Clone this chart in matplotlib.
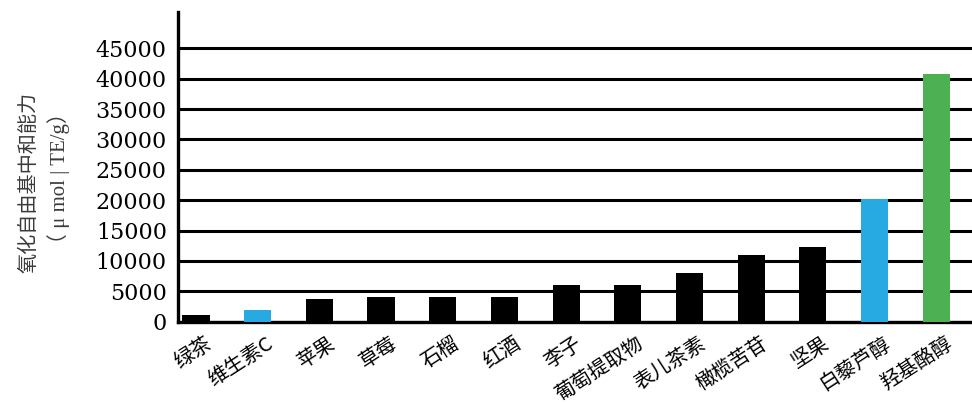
import numpy as np
import matplotlib
matplotlib.use('Agg')
import matplotlib.pyplot as plt
from matplotlib.transforms import ScaledTranslation

# data
categories = ['绿茶', '维生素C', '苹果', '草莓', '石榴', '红酒', '李子',
              '葡萄提取物', '表儿茶素', '橄榄苦苷', '坚果', '白藜芦醇', '羟基酪醇']
values = [1150, 2000, 3800, 4100, 4100, 4100, 6100,
          6100, 8000, 10950, 12250, 20200, 40800]
yticks = [0, 5000, 10000, 15000, 20000, 25000, 30000, 35000, 40000, 45000]
ylabel_main = '氧化自由基中和能力'
ylabel_unit = '（ μ mol | TE/g）'

colors = ['black'] * len(categories)
colors[1] = '#27A9E1'
colors[11] = '#27A9E1'
colors[12] = '#4DB153'

plt.rcParams['font.family'] = ['Noto Sans CJK SC', 'DejaVu Sans']

fig = plt.figure(figsize=(9.72, 4.05), dpi=100)
ax = fig.add_axes([0.1831, 0.2057, 0.8169, 0.7647])

x = np.arange(len(categories))
ax.bar(x, values, width=0.44, color=colors, zorder=3)

ax.set_xlim(-0.292, 12.58)
ax.set_ylim(0, 50975)
ax.set_yticks(yticks)
ax.set_yticklabels([str(v) for v in yticks], family='DejaVu Serif', fontsize=16)
ax.yaxis.grid(True, color='black', linewidth=2.2, zorder=0)
ax.set_axisbelow(True)
ax.tick_params(axis='y', length=0, pad=8)

ax.set_xticks(x)
ax.set_xticklabels(categories, rotation=33, ha='right', va='top', fontsize=14.5)
ax.tick_params(axis='x', length=0, pad=8)
offset = ScaledTranslation(20 / 100, 0, fig.dpi_scale_trans)
for lab in ax.get_xticklabels():
    lab.set_transform(lab.get_transform() + offset)

for side in ['top', 'right']:
    ax.spines[side].set_visible(False)
for side in ['left', 'bottom']:
    ax.spines[side].set_linewidth(2.4)
    ax.spines[side].set_color('black')

fig.text(29 / 972, 1 - 182 / 405, ylabel_main, rotation=90, ha='center', va='center',
         fontsize=14.5, color='#3a3a3a')
fig.text(59 / 972, 1 - 178 / 405, ylabel_unit, rotation=90, ha='center', va='center',
         fontsize=15, color='#3a3a3a', family=['Liberation Serif', 'Noto Sans CJK SC'])

fig.savefig('out.png', dpi=100)
